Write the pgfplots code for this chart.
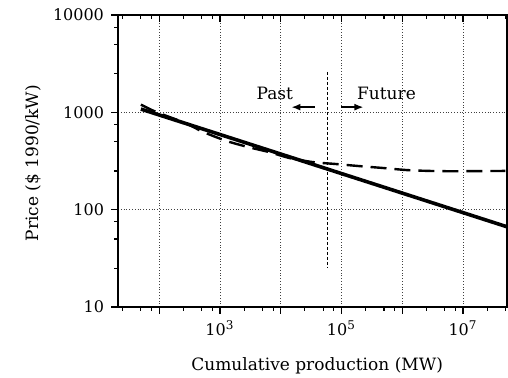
\documentclass[border=0pt]{standalone}
\usepackage{fontspec}
\setmainfont{DejaVu Serif}
\usepackage{pgfplots}
\pgfplotsset{compat=1.18}
\usetikzlibrary{arrows.meta}
\begin{document}
\begin{tikzpicture}
\begin{loglogaxis}[name=ax,
  scale only axis, width=194.5pt, height=146pt,
  xmin=21, xmax=5.3e7, ymin=10, ymax=10000,
  xtick={1e2,1e3,1e4,1e5,1e6,1e7},
  minor xtick={25,50,75,250,500,750,2500,5000,7500,25000,50000,75000,250000,500000,750000,2.5e6,5e6,7.5e6,2.5e7,5e7},
  axis line style={line width=0.8pt},
  tick style={line width=0.6pt, black},
  major tick length=3.5pt, minor tick length=2pt,
  tick align=outside, xtick pos=left, ytick pos=left,
  ytick={10,100,1000,10000}, yticklabels={10,100,1000,10000},
  minor ytick={25,50,75,250,500,750,2500,5000,7500},
  xticklabels={{},{10\textsuperscript{3}},{},{10\textsuperscript{5}},{},{10\textsuperscript{7}}},
  tick label style={font=\fontsize{8}{9}\selectfont},
  grid=major, major grid style={densely dotted, line width=0.4pt, black!75},
  xlabel={Cumulative production (MW)},
  ylabel={Price (\$ 1990/kW)},
  label style={font=\fontsize{8.5}{10}\selectfont},
  x label style={at={(axis description cs:0.512,-0.2158)}, anchor=base},
  y label style={at={(axis description cs:-0.2185,0.493)}, anchor=center},
]
\addplot[black, line width=1.8pt] coordinates {(50,1080) (5.3e7,66.7)};
\addplot[black, line width=1.2pt, dash pattern=on 8pt off 4pt, smooth, tension=0.4] coordinates {
(50,1200) (70,1080) (100,980) (270,776) (525,630) (1290,507) (2900,440) (6600,389)
(14000,339) (34000,308) (83000,294) (2e5,280) (4.8e5,268) (1.2e6,255) (2.8e6,250)
(6.8e6,248) (1.7e7,249) (5e7,250)};
\addplot[black, line width=0.9pt, dash pattern=on 1.5pt off 1pt] coordinates {(5.9e4,2600) (5.9e4,25)};
\addplot[black, line width=0.8pt, -{Latex[length=4.5pt,width=3.5pt]}] coordinates {(3.6e4,1130) (1.5e4,1130)};
\addplot[black, line width=0.8pt, -{Latex[length=4.5pt,width=3.5pt]}] coordinates {(1.0e5,1130) (2.3e5,1130)};
\node[anchor=base, font=\fontsize{8.5}{10}\selectfont, inner sep=0pt] at (axis cs:8000,1340) {Past};
\node[anchor=base, font=\fontsize{8.5}{10}\selectfont, inner sep=0pt] at (axis cs:5.5e5,1340) {Future};
\end{loglogaxis}
\begin{loglogaxis}[
  scale only axis, width=194.5pt, height=146pt,
  xmin=21, xmax=5.3e7, ymin=10, ymax=10000,
  xtick={1e2,1e3,1e4,1e5,1e6,1e7},
  minor xtick={25,50,75,250,500,750,2500,5000,7500,25000,50000,75000,250000,500000,750000,2.5e6,5e6,7.5e6,2.5e7,5e7},
  axis line style={line width=0.8pt},
  tick style={line width=0.6pt, black},
  major tick length=3.5pt, minor tick length=2pt,
  xtick pos=right, tick align=inside, xticklabels={}, ytick=\empty]
\addplot[draw=none] coordinates {(100,100)};
\end{loglogaxis}
\pgfresetboundingbox
\path ([xshift=-59pt,yshift=-35.5pt]ax.south west) rectangle ([xshift=0.5pt,yshift=7.5pt]ax.north east);
\end{tikzpicture}
\end{document}
